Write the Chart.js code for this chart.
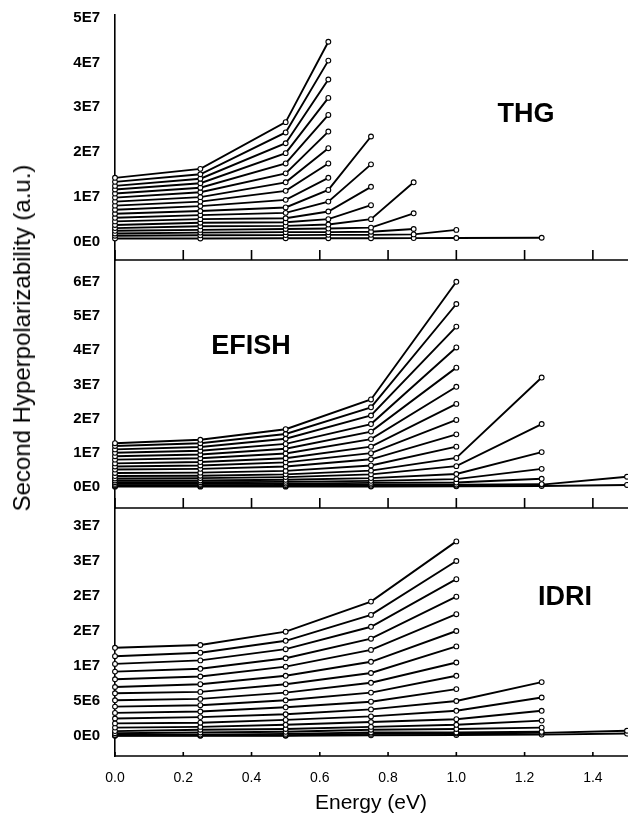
<!DOCTYPE html>
<html>
<head>
<meta charset="utf-8">
<script src="https://cdn.jsdelivr.net/npm/chart.js@4.4.1/dist/chart.umd.min.js"></script>
<style>
  body { margin: 0; background: #fff; }
  #wrap { position: relative; width: 628px; height: 840px; overflow: hidden; font-family: "Liberation Sans", Arial, sans-serif; }
  .panel { position: absolute; left: 0; }
  .lbl { position: absolute; transform: translate(-50%, -50%); font-weight: bold; font-size: 27px; color: #000; white-space: nowrap; }
  #ytitle { position: absolute; left: 22px; top: 338px; transform: translate(-50%, -50%) rotate(-90deg); font-size: 24px; color: #000; white-space: nowrap; }
</style>
</head>
<body>
<div id="wrap">
  <div class="panel" style="top:0px"><canvas id="thg" width="628" height="264"></canvas></div>
  <div class="panel" style="top:256px"><canvas id="efish" width="628" height="256"></canvas></div>
  <div class="panel" style="top:504px"><canvas id="idri" width="628" height="336"></canvas></div>
  <div class="lbl" style="left:526px; top:113px">THG</div>
  <div class="lbl" style="left:251px; top:345px">EFISH</div>
  <div class="lbl" style="left:565px; top:596px">IDRI</div>
  <div id="ytitle">Second Hyperpolarizability (a.u.)</div>
</div>
<script>
// values in units of 1E6 a.u.
const UNIT = 1e6;
const xTicks = [0, 0.2, 0.4, 0.6, 0.8, 1.0, 1.2, 1.4];

const thgEnergy = [0, 0.25, 0.5, 0.625, 0.75, 0.875, 1.0, 1.25];
const thgValues = [
  [14.3, 16.3, 26.7, 44.6],
  [13.4, 15.1, 24.4, 40.4],
  [12.5, 14.1, 22.0, 36.2],
  [11.7, 13.1, 19.8, 32.1],
  [10.8, 12.1, 17.5, 28.3],
  [9.9, 11.1, 15.3, 24.6],
  [9.0, 10.0, 13.3, 20.9],
  [8.1, 9.0, 11.4, 17.5],
  [7.2, 8.0, 9.4, 14.3],
  [6.3, 6.9, 7.7, 11.6, 23.5],
  [5.4, 6.0, 6.5, 9.0, 17.3],
  [4.6, 5.1, 5.3, 6.8, 12.3],
  [3.8, 4.3, 4.4, 5.1, 8.2],
  [3.1, 3.5, 3.6, 3.9, 5.1, 13.3],
  [2.5, 2.7, 2.9, 3.0, 3.2, 6.4],
  [1.9, 2.1, 2.2, 2.2, 2.3, 2.9],
  [1.4, 1.5, 1.55, 1.6, 1.6, 1.7, 2.7],
  [0.8, 0.8, 0.85, 0.85, 0.86, 0.88, 0.9, 0.95]
];
const thgTicks = [0, 1e7, 2e7, 3e7, 4e7, 5e7];

const efishEnergy = [0, 0.25, 0.5, 0.75, 1.0, 1.25, 1.5];
const efishValues = [
  [12.8, 13.8, 16.9, 25.6, 60.0],
  [12.0, 12.8, 15.5, 23.3, 53.5],
  [11.0, 11.7, 14.1, 20.9, 46.9],
  [10.0, 10.6, 12.6, 18.4, 40.8],
  [9.0, 9.5, 11.2, 16.2, 34.9],
  [8.0, 8.4, 9.8, 14.0, 29.3],
  [6.9, 7.3, 8.4, 11.8, 24.3],
  [6.0, 6.3, 7.2, 9.9, 19.6],
  [5.1, 5.3, 6.0, 8.1, 15.4],
  [4.1, 4.2, 4.7, 6.3, 11.8],
  [3.2, 3.3, 3.7, 4.8, 8.5, 32.0],
  [2.5, 2.6, 2.9, 3.7, 6.1, 18.4],
  [1.9, 1.9, 2.1, 2.6, 3.8, 10.2],
  [1.4, 1.4, 1.5, 1.8, 2.3, 5.3],
  [0.9, 0.9, 1.0, 1.2, 1.3, 2.4],
  [0.5, 0.55, 0.6, 0.7, 0.7, 0.85],
  [0.3, 0.3, 0.3, 0.35, 0.4, 0.7, 3.0],
  [0.1, 0.1, 0.1, 0.15, 0.2, 0.3, 0.6]
];
const efishTicks = [0, 1e7, 2e7, 3e7, 4e7, 5e7, 6e7];

const idriEnergy = [0, 0.25, 0.5, 0.75, 1.0, 1.25, 1.5];
const idriValues = [
  [12.6, 13.0, 14.9, 19.2, 27.8],
  [11.4, 11.9, 13.6, 17.3, 25.0],
  [10.3, 10.8, 12.4, 15.6, 22.4],
  [9.2, 9.6, 11.1, 13.9, 19.9],
  [8.1, 8.5, 9.9, 12.3, 17.4],
  [7.0, 7.4, 8.6, 10.6, 15.0],
  [6.1, 6.3, 7.4, 9.0, 12.8],
  [5.1, 5.3, 6.2, 7.6, 10.5],
  [4.2, 4.4, 5.1, 6.2, 8.6],
  [3.3, 3.5, 4.1, 4.9, 6.7],
  [2.5, 2.7, 3.1, 3.8, 5.0, 7.7],
  [1.8, 1.9, 2.3, 2.8, 3.6, 5.5],
  [1.2, 1.3, 1.6, 2.0, 2.4, 3.6],
  [0.7, 0.9, 1.0, 1.3, 1.6, 2.2],
  [0.4, 0.5, 0.6, 0.9, 1.0, 1.2],
  [0.15, 0.2, 0.3, 0.5, 0.5, 0.6],
  [0.07, 0.08, 0.1, 0.3, 0.36, 0.45, 0.75],
  [0.03, 0.03, 0.04, 0.1, 0.14, 0.2, 0.35]
];
const idriTicks = [0, 5e6, 1e7, 1.5e7, 2e7, 2.5e7, 3e7];

const FONT = '"Liberation Sans", Arial, sans-serif';

// bottom frame line with ticks pointing up into the panel
const bottomTicks = {
  id: 'bottomTicks',
  afterDraw(chart, args, opts) {
    const { ctx, chartArea, scales } = chart;
    ctx.save();
    ctx.strokeStyle = '#000';
    ctx.lineWidth = 1.6;
    ctx.beginPath();
    ctx.moveTo(chartArea.left, chartArea.bottom);
    ctx.lineTo(chartArea.right + 2, chartArea.bottom);
    xTicks.forEach(t => {
      const x = scales.x.getPixelForValue(t);
      ctx.moveTo(x, chartArea.bottom);
      ctx.lineTo(x, chartArea.bottom - opts.len);
    });
    ctx.stroke();
    ctx.restore();
  }
};

function sciLabel(v) {
  if (v === 0) return '0E0';
  return v.toExponential(0).replace('e+', 'E');
}

function makePanel(id, energy, values, yMin, yMax, yTicks, pad, showX, tickLen) {
  const datasets = values.map(row => ({
    data: row.map((v, i) => ({ x: energy[i], y: v * UNIT })),
    borderColor: '#000',
    borderWidth: 1.9,
    pointRadius: 2.4,
    pointBackgroundColor: '#fff',
    pointBorderColor: '#000',
    pointBorderWidth: 1.1,
    tension: 0,
    clip: 5
  }));

  new Chart(document.getElementById(id), {
    type: 'line',
    data: { datasets: datasets },
    plugins: [bottomTicks],
    options: {
      responsive: false,
      animation: false,
      devicePixelRatio: 1,
      layout: { padding: pad, autoPadding: false },
      plugins: {
        legend: { display: false },
        tooltip: { enabled: false },
        bottomTicks: { len: tickLen }
      },
      scales: {
        x: {
          type: 'linear',
          min: 0,
          max: 1.5,
          display: showX,
          afterBuildTicks: s => { s.ticks = xTicks.map(v => ({ value: v })); },
          afterFit: s => {
            s.height = showX ? 84 : 0;
            s.paddingLeft = 0;
            s.paddingRight = 0;
          },
          border: { display: false },
          grid: { display: false, drawTicks: false },
          ticks: {
            color: '#000',
            padding: 14,
            font: { family: FONT, size: 14 },
            callback: v => Number(v).toFixed(1)
          },
          title: {
            display: true,
            text: 'Energy (eV)',
            color: '#000',
            font: { family: FONT, size: 21 },
            padding: { top: 0, bottom: 24 }
          }
        },
        y: {
          type: 'linear',
          min: yMin,
          max: yMax,
          afterBuildTicks: s => { s.ticks = yTicks.map(v => ({ value: v })); },
          afterFit: s => {
            s.width = 115;
            s.paddingTop = 0;
            s.paddingBottom = 0;
          },
          border: { display: true, color: '#000', width: 1.6 },
          grid: { display: false, drawTicks: false },
          ticks: {
            color: '#000',
            padding: 15,
            font: { family: FONT, size: 15, weight: 'bold' },
            callback: v => sciLabel(v)
          }
        }
      }
    }
  });
}

makePanel('thg', thgEnergy, thgValues, -4.0e6, 50.56e6, thgTicks,
  { top: 15, bottom: 4, left: 0, right: 1 }, false, 10);
makePanel('efish', efishEnergy, efishValues, -6.14e6, 66.37e6, efishTicks,
  { top: 4, bottom: 4, left: 0, right: 1 }, false, 10);
makePanel('idri', idriEnergy, idriValues, -2.86e6, 32.57e6, idriTicks,
  { top: 4, bottom: 0, left: 0, right: 1 }, true, 4);
</script>
</body>
</html>
